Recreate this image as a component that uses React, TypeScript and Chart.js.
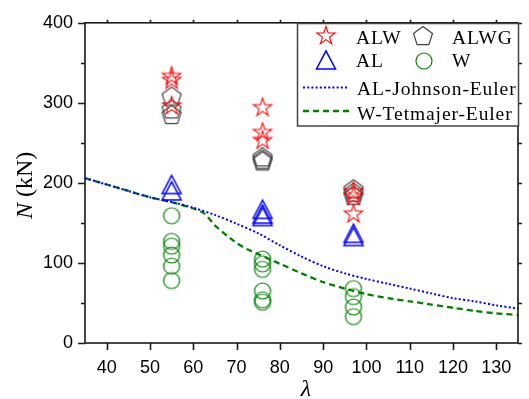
import React, { useEffect, useRef } from "react";
import { Chart, registerables } from "chart.js";

Chart.register(...registerables);

// ---- data ----
const ALW_LAMBDA = [55, 55, 55, 76, 76, 76, 97, 97, 97];
const ALW_N = [333, 328, 296, 294, 263, 253, 189, 183, 161];

const ALWG_LAMBDA = [55, 55, 55, 76, 76, 76, 97, 97, 97];
const ALWG_N = [308, 292, 285, 232, 229, 227, 192, 188, 184];

const AL_LAMBDA = [55, 55, 76, 76, 76, 97, 97];
const AL_N = [198, 190, 167, 161, 158, 137, 133];

const W_LAMBDA = [55, 55, 55, 55, 55, 55, 76, 76, 76, 76, 76, 76, 97, 97, 97, 97];
const W_N = [159, 127, 121, 110, 96, 78, 105, 99, 92, 65, 54, 51, 68, 58, 45, 33];

const JOHNSON_LAMBDA = [35, 40, 45, 50, 55, 60, 65, 70, 75, 80, 85, 90, 95, 100, 105, 110, 115, 120, 125, 130, 135];
const JOHNSON_N = [206, 198, 190, 182, 176, 169, 160, 149, 137, 122, 108, 96, 87, 80, 74, 68, 62, 56, 52, 47, 43];

const TETMAJER_LAMBDA = [35, 40, 45, 50, 55, 60, 62.5, 65, 68, 70, 72.5, 75, 80, 85, 90, 95, 100, 105, 110, 115, 120, 125, 130, 135];
const TETMAJER_N = [206, 198, 190, 182, 176, 168, 162, 147, 133, 125, 117, 111, 99, 87, 76, 68, 61, 56, 52, 48, 44, 40, 37, 35];

const X_TICKS = [40, 50, 60, 70, 80, 90, 100, 110, 120, 130];
const Y_TICKS = [0, 100, 200, 300, 400];
const Y_MINOR = [50, 150, 250, 350];

const LEGEND_LABELS = ["ALW", "ALWG", "AL", "W", "AL-Johnson-Euler", "W-Tetmajer-Euler"];

function makeMarker(size: number, draw: (ctx: CanvasRenderingContext2D) => void) {
  const c = document.createElement("canvas");
  c.width = size;
  c.height = size;
  const ctx = c.getContext("2d")!;
  ctx.translate(size / 2, size / 2);
  draw(ctx);
  return c;
}

function polyPath(ctx: CanvasRenderingContext2D, pts: number[][]) {
  ctx.beginPath();
  pts.forEach((p, i) => (i === 0 ? ctx.moveTo(p[0], p[1]) : ctx.lineTo(p[0], p[1])));
  ctx.closePath();
}

const starMarker = makeMarker(26, (ctx) => {
  const pts: number[][] = [];
  const ro = 9.6, ri = 9.6 * 0.382;
  for (let i = 0; i < 10; i++) {
    const r = i % 2 === 0 ? ro : ri;
    const a = -Math.PI / 2 + (i * Math.PI) / 5;
    pts.push([r * Math.cos(a), r * Math.sin(a)]);
  }
  polyPath(ctx, pts);
  ctx.strokeStyle = "#ff0000";
  ctx.lineWidth = 1.1;
  ctx.stroke();
});

const pentaMarker = makeMarker(26, (ctx) => {
  const pts: number[][] = [];
  const r = 10;
  for (let i = 0; i < 5; i++) {
    const a = -Math.PI / 2 + (i * 2 * Math.PI) / 5;
    pts.push([r * Math.cos(a), r * Math.sin(a) + 0.5]);
  }
  polyPath(ctx, pts);
  ctx.strokeStyle = "#444444";
  ctx.lineWidth = 1.2;
  ctx.stroke();
});

const triMarker = makeMarker(26, (ctx) => {
  polyPath(ctx, [[0, -9.2], [-9.5, 9], [9.5, 9]]);
  ctx.strokeStyle = "#0000ff";
  ctx.lineWidth = 1.5;
  ctx.stroke();
});

const circMarker = makeMarker(22, (ctx) => {
  ctx.beginPath();
  ctx.arc(0, 0, 8, 0, Math.PI * 2);
  ctx.strokeStyle = "#008000";
  ctx.lineWidth = 1.2;
  ctx.stroke();
});

const pts = (xs: number[], ys: number[]) => xs.map((x, i) => ({ x, y: ys[i] }));

const decorPlugin = {
  id: "decor",
  afterDraw(chart: any) {
    const ctx: CanvasRenderingContext2D = chart.ctx;
    const { left, right, top, bottom } = chart.chartArea;
    const xs = chart.scales.x;
    const ys = chart.scales.y;
    ctx.save();
    ctx.strokeStyle = "#1a1a1a";
    ctx.lineWidth = 1.6;
    // ticks
    ctx.beginPath();
    X_TICKS.forEach((v) => {
      const px = Math.round(xs.getPixelForValue(v)) + 0.5;
      ctx.moveTo(px, bottom);
      ctx.lineTo(px, bottom + 7);
      ctx.moveTo(px, top);
      ctx.lineTo(px, top - 3);
    });
    Y_TICKS.forEach((v) => {
      const py = Math.round(ys.getPixelForValue(v)) + 0.5;
      ctx.moveTo(left, py);
      ctx.lineTo(left - 7, py);
      ctx.moveTo(right, py);
      ctx.lineTo(right + 4, py);
    });
    Y_MINOR.forEach((v) => {
      const py = Math.round(ys.getPixelForValue(v)) + 0.5;
      ctx.moveTo(left, py);
      ctx.lineTo(left - 4, py);
      ctx.moveTo(right, py);
      ctx.lineTo(right + 4, py);
    });
    ctx.stroke();
    // frame
    ctx.strokeRect(left, top, right - left, bottom - top);

    // axis titles
    ctx.fillStyle = "#000000";
    ctx.textBaseline = "alphabetic";
    ctx.save();
    ctx.translate(32, 219);
    ctx.rotate(-Math.PI / 2);
    ctx.textAlign = "left";
    ctx.font = "italic 24px 'Liberation Serif'";
    ctx.fillText("N", 0, 0);
    const wN = ctx.measureText("N").width;
    ctx.font = "24px 'Liberation Serif'";
    ctx.fillText(" (kN)", wN, 0);
    ctx.restore();
    ctx.textAlign = "center";
    ctx.font = "italic 24px 'Liberation Serif'";
    ctx.fillText("λ", 306, 396);

    // legend
    const lx = 297.5, ly = 23.5, lw = 221, lh = 102.5;
    ctx.fillStyle = "#ffffff";
    ctx.fillRect(lx, ly, lw, lh);
    ctx.strokeStyle = "#444444";
    ctx.lineWidth = 1.5;
    ctx.strokeRect(lx, ly, lw, lh);

    const drawM = (m: HTMLCanvasElement, x: number, y: number) =>
      ctx.drawImage(m, x - m.width / 2, y - m.height / 2);
    drawM(starMarker, 326, 36);
    drawM(pentaMarker, 423, 36);
    drawM(triMarker, 326, 60);
    drawM(circMarker, 424, 61);

    ctx.lineWidth = 2;
    ctx.strokeStyle = "#0000ff";
    ctx.setLineDash([2, 2.2]);
    ctx.beginPath();
    ctx.moveTo(303, 87.5);
    ctx.lineTo(349, 87.5);
    ctx.stroke();
    ctx.strokeStyle = "#008000";
    ctx.lineWidth = 2.3;
    ctx.setLineDash([6, 4]);
    ctx.beginPath();
    ctx.moveTo(303, 111);
    ctx.lineTo(351, 111);
    ctx.stroke();
    ctx.setLineDash([]);

    ctx.fillStyle = "#000000";
    ctx.textAlign = "left";
    ctx.textBaseline = "alphabetic";
    ctx.font = "19.5px 'Liberation Serif'";
    try {
      (ctx as any).letterSpacing = "0.9px";
    } catch (e) {}
    ctx.fillText(LEGEND_LABELS[0], 356, 44);
    ctx.fillText(LEGEND_LABELS[1], 452, 44);
    ctx.fillText(LEGEND_LABELS[2], 356, 67);
    ctx.fillText(LEGEND_LABELS[3], 452, 67);
    ctx.fillText(LEGEND_LABELS[4], 357, 95);
    ctx.fillText(LEGEND_LABELS[5], 357, 120);
    try {
      (ctx as any).letterSpacing = "0px";
    } catch (e) {}
    ctx.restore();
  },
};

export default function App() {
  const ref = useRef<HTMLCanvasElement | null>(null);
  useEffect(() => {
    if (!ref.current) return;
    const chart = new Chart(ref.current, {
      type: "scatter",
      data: {
        datasets: [
          { label: "ALW", data: pts(ALW_LAMBDA, ALW_N), pointStyle: starMarker as any, pointRadius: 10, showLine: false },
          { label: "ALWG", data: pts(ALWG_LAMBDA, ALWG_N), pointStyle: pentaMarker as any, pointRadius: 10, showLine: false },
          { label: "AL", data: pts(AL_LAMBDA, AL_N), pointStyle: triMarker as any, pointRadius: 10, showLine: false },
          { label: "W", data: pts(W_LAMBDA, W_N), pointStyle: circMarker as any, pointRadius: 10, showLine: false },
          {
            label: "AL-Johnson-Euler",
            data: pts(JOHNSON_LAMBDA, JOHNSON_N),
            showLine: true,
            pointRadius: 0,
            borderColor: "#0000ff",
            borderWidth: 2,
            borderDash: [2, 2.2],
            tension: 0.3,
            fill: false,
          },
          {
            label: "W-Tetmajer-Euler",
            data: pts(TETMAJER_LAMBDA, TETMAJER_N),
            showLine: true,
            pointRadius: 0,
            borderColor: "#008000",
            borderWidth: 2.3,
            borderDash: [6, 4],
            tension: 0.2,
            fill: false,
          },
        ],
      },
      options: {
        responsive: false,
        animation: false,
        events: [],
        layout: { padding: { top: 20, right: 2, left: 0, bottom: 0 } },
        plugins: { legend: { display: false }, tooltip: { enabled: false } },
        scales: {
          x: {
            type: "linear",
            min: 35,
            max: 135,
            grid: { display: false, drawTicks: false },
            border: { display: false },
            afterBuildTicks: (s: any) => {
              s.ticks = X_TICKS.map((v) => ({ value: v }));
            },
            afterFit: (s: any) => {
              s.height = 56;
            },
            ticks: {
              autoSkip: false,
              maxRotation: 0,
              padding: 14,
              color: "#000000",
              font: { family: "'Liberation Sans'", size: 18 },
            },
          },
          y: {
            type: "linear",
            min: 0,
            max: 400,
            grid: { display: false, drawTicks: false },
            border: { display: false },
            afterBuildTicks: (s: any) => {
              s.ticks = Y_TICKS.map((v) => ({ value: v }));
            },
            afterFit: (s: any) => {
              s.width = 85;
            },
            ticks: {
              padding: 12,
              color: "#000000",
              font: { family: "'Liberation Sans'", size: 18 },
            },
          },
        },
      },
      plugins: [decorPlugin],
    });
    return () => chart.destroy();
  }, []);
  return (
    <div style={{ position: "fixed", left: 0, top: 0, width: 529, height: 399, background: "#fff" }}>
      <canvas ref={ref} width={529} height={399} />
    </div>
  );
}
